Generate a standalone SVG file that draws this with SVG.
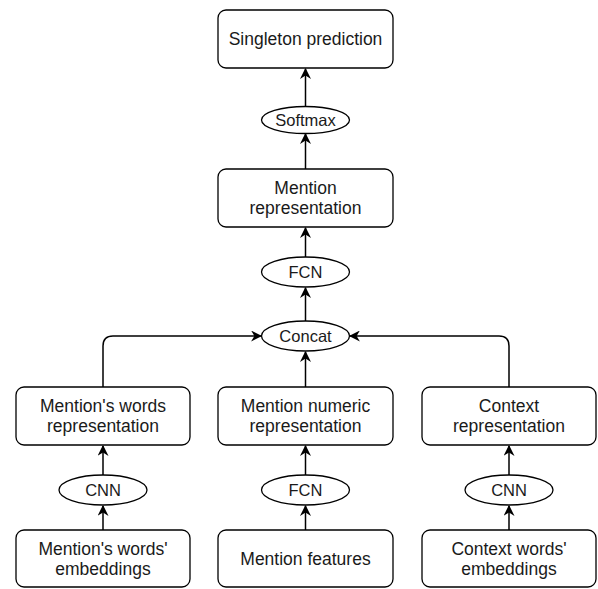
<svg xmlns="http://www.w3.org/2000/svg" width="598" height="589" viewBox="0 0 598 589">
<style>
.box{fill:#fff;stroke:#000;stroke-width:1.3}
.ell{fill:#fff;stroke:#000;stroke-width:1.3}
.t{font-family:"Liberation Sans",Arial,sans-serif;font-size:17.5px;fill:#1a1a1a;text-anchor:middle}
.e{font-size:16.5px}
.c{fill:none;stroke:#000;stroke-width:1.5}
</style>
<defs>
<marker id="ar" viewBox="0 0 10 10" refX="9" refY="5" markerWidth="11" markerHeight="11" markerUnits="userSpaceOnUse" orient="auto">
<path d="M0,0 L10,5 L0,10 L3,5 Z" fill="#000"/>
</marker>
</defs>
<rect width="598" height="589" fill="#fff"/>
<g id="connectors">
<path class="c" d="M305.5,106 V69" marker-end="url(#ar)"/>
<path class="c" d="M305.5,169 V134" marker-end="url(#ar)"/>
<path class="c" d="M305.5,257 V228" marker-end="url(#ar)"/>
<path class="c" d="M305.5,321 V288" marker-end="url(#ar)"/>
<path class="c" d="M305.5,387 V352" marker-end="url(#ar)"/>
<path class="c" d="M305.5,475 V446" marker-end="url(#ar)"/>
<path class="c" d="M305.5,530 V506" marker-end="url(#ar)"/>
<path class="c" d="M103,475 V446" marker-end="url(#ar)"/>
<path class="c" d="M103,530 V506" marker-end="url(#ar)"/>
<path class="c" d="M509,475 V446" marker-end="url(#ar)"/>
<path class="c" d="M509,530 V506" marker-end="url(#ar)"/>
<path class="c" d="M103,387 V346 Q103,336 113,336 H261" marker-end="url(#ar)"/>
<path class="c" d="M509,387 V346 Q509,336 499,336 H350" marker-end="url(#ar)"/>
</g>
<g id="singleton">
<rect class="box" x="218" y="10" width="175" height="58" rx="8"/>
<text class="t" x="305.5" y="45">Singleton prediction</text>
</g>
<g id="softmax">
<ellipse class="ell" cx="305.5" cy="120" rx="44" ry="13.5"/>
<text class="t e" x="305.5" y="126">Softmax</text>
</g>
<g id="mention-rep">
<rect class="box" x="218" y="169" width="175" height="58" rx="8"/>
<text class="t" x="305.5" y="194">Mention</text>
<text class="t" x="305.5" y="214">representation</text>
</g>
<g id="fcn-top">
<ellipse class="ell" cx="305.5" cy="272" rx="44" ry="15"/>
<text class="t e" x="305.5" y="278">FCN</text>
</g>
<g id="concat">
<ellipse class="ell" cx="305.5" cy="336" rx="44" ry="15"/>
<text class="t e" x="305.5" y="342">Concat</text>
</g>
<g id="words-rep">
<rect class="box" x="16" y="387" width="174" height="58" rx="8"/>
<text class="t" x="103" y="412">Mention's words</text>
<text class="t" x="103" y="432">representation</text>
</g>
<g id="numeric-rep">
<rect class="box" x="218" y="387" width="175" height="58" rx="8"/>
<text class="t" x="305.5" y="412">Mention numeric</text>
<text class="t" x="305.5" y="432">representation</text>
</g>
<g id="context-rep">
<rect class="box" x="422" y="387" width="174" height="58" rx="8"/>
<text class="t" x="509" y="412">Context</text>
<text class="t" x="509" y="432">representation</text>
</g>
<g id="cnn-left">
<ellipse class="ell" cx="103" cy="490" rx="44" ry="15"/>
<text class="t e" x="103" y="496">CNN</text>
</g>
<g id="fcn-mid">
<ellipse class="ell" cx="305.5" cy="490" rx="44" ry="15"/>
<text class="t e" x="305.5" y="496">FCN</text>
</g>
<g id="cnn-right">
<ellipse class="ell" cx="509" cy="490" rx="44" ry="15"/>
<text class="t e" x="509" y="496">CNN</text>
</g>
<g id="words-emb">
<rect class="box" x="16" y="530" width="174" height="57" rx="8"/>
<text class="t" x="103" y="555">Mention's words'</text>
<text class="t" x="103" y="575">embeddings</text>
</g>
<g id="features">
<rect class="box" x="218" y="530" width="175" height="57" rx="8"/>
<text class="t" x="305.5" y="565">Mention features</text>
</g>
<g id="context-emb">
<rect class="box" x="422" y="530" width="174" height="57" rx="8"/>
<text class="t" x="509" y="555">Context words'</text>
<text class="t" x="509" y="575">embeddings</text>
</g>
</svg>
